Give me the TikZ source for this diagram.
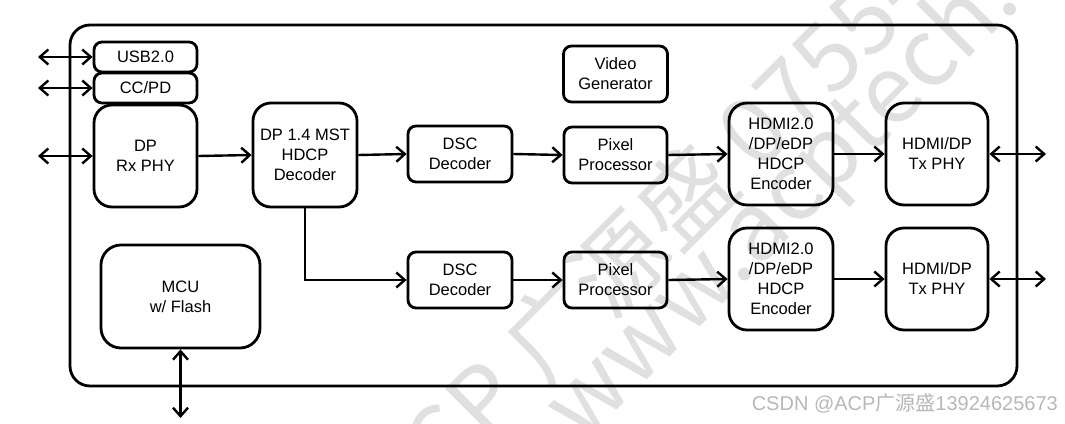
\documentclass[tikz,border=0pt]{standalone}
\usepackage{fontspec}
\setmainfont{Liberation Sans}
\newfontfamily\cjk{Noto Sans CJK SC}
\usetikzlibrary{arrows.meta}
\begin{document}
\begin{tikzpicture}[x=1pt,y=-1pt,
  box/.style={draw, line width=2.8pt, rounded corners=8pt, align=center, inner sep=0pt,
    font=\fontsize{16.5}{20}\selectfont},
  bigbox/.style={box, rounded corners=18pt},
  conn/.style={line width=2.4pt, -{Straight Barb[length=8.5pt,width=15pt]}},
  bidir/.style={line width=2.4pt, {Straight Barb[length=8.5pt,width=15pt]}-{Straight Barb[length=8.5pt,width=15pt]}},
  wmark/.style={rotate=45, anchor=base west, text=black!12, inner sep=0pt, font=\cjk\fontsize{94}{94}\selectfont},
  footer/.style={anchor=base east, text=black!28, inner sep=0pt, font=\fontsize{20}{20}\selectfont}
]
\useasboundingbox[fill=white] (0,0) rectangle (1065,423);
% watermark
\begin{scope}
\clip (0,0) rectangle (1065,423);
\node[wmark] (wm1) at (405,527) {ACP 广源盛 0755-};
\node[wmark] (wm2) at (582,445) {www.acptech.com};
\end{scope}
% outer frame
\node[draw, line width=2.8pt, rounded corners=20pt, minimum width=947pt, minimum height=361pt, inner sep=0pt] (chip) at (543.5,205.5) {};
% blocks
\node[box, minimum width=103pt, minimum height=30pt] (usb) at (145.5,57) {USB2.0};
\node[box, minimum width=103pt, minimum height=30pt] (ccpd) at (145.5,88) {CC/PD};
\node[bigbox, minimum width=103pt, minimum height=102pt] (dprx) at (145.5,156) {DP\\Rx PHY};
\node[bigbox, minimum width=104pt, minimum height=104pt] (mst) at (305,155) {DP 1.4 MST\\HDCP\\Decoder};
\node[box, minimum width=104pt, minimum height=56pt] (vg) at (615.5,74) {Video\\Generator};
\node[box, minimum width=104pt, minimum height=56pt] (dsc1) at (460,154) {DSC\\Decoder};
\node[box, minimum width=103pt, minimum height=56pt] (pix1) at (615.5,155) {Pixel\\Processor};
\node[bigbox, minimum width=104pt, minimum height=102pt] (enc1) at (781,154) {HDMI2.0\\/DP/eDP\\HDCP\\Encoder};
\node[bigbox, minimum width=102pt, minimum height=102pt] (tx1) at (937,154) {HDMI/DP\\Tx PHY};
\node[box, minimum width=104pt, minimum height=56pt] (dsc2) at (460,280) {DSC\\Decoder};
\node[box, minimum width=103pt, minimum height=56pt] (pix2) at (615.5,280) {Pixel\\Processor};
\node[bigbox, minimum width=104pt, minimum height=102pt] (enc2) at (781,279) {HDMI2.0\\/DP/eDP\\HDCP\\Encoder};
\node[bigbox, minimum width=102pt, minimum height=102pt] (tx2) at (937,279) {HDMI/DP\\Tx PHY};
\node[bigbox, rounded corners=20pt, minimum width=159pt, minimum height=103pt] (mcu) at (180.5,296.5) {MCU\\w/ Flash};
% free ends
\coordinate (l1) at (38,57);
\coordinate (l2) at (38,88);
\coordinate (l3) at (38,156);
\coordinate (r1) at (1046,154);
\coordinate (r2) at (1046,279);
\coordinate (m1) at (180.5,418);
% connectors
\draw[bidir] (l1) -- (usb.west);
\draw[bidir] (l2) -- (ccpd.west);
\draw[bidir] (l3) -- (dprx.west);
\draw[conn] (dprx.east) -- (mst.west);
\draw[conn] (mst.east) -- (dsc1.west);
\draw[conn] (dsc1.east) -- (pix1.west);
\draw[conn] (pix1.east) -- (enc1.west);
\draw[conn] (enc1.east) -- (tx1.west);
\draw[bidir] (tx1.east) -- (r1);
\draw[conn] (mst.south) |- (dsc2.west);
\draw[conn] (dsc2.east) -- (pix2.west);
\draw[conn] (pix2.east) -- (enc2.west);
\draw[conn] (enc2.east) -- (tx2.west);
\draw[bidir] (tx2.east) -- (r2);
\draw[bidir] (mcu.south) -- (m1);
% footer
\node[footer] (csdn) at (1058,410) {CSDN @ACP{\cjk 广源盛}13924625673};
\end{tikzpicture}
\end{document}
